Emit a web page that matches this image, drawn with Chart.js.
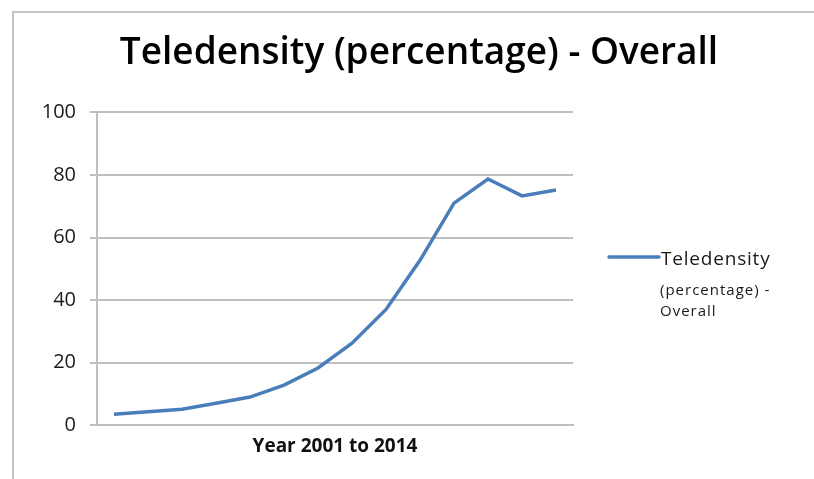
<!DOCTYPE html>
<html>
<head>
<meta charset="utf-8">
<title>Teledensity (percentage) - Overall</title>
<script src="https://cdn.jsdelivr.net/npm/chart.js@4.4.1/dist/chart.umd.min.js"></script>
<style>
  html, body { margin: 0; padding: 0; background: #fff; overflow: hidden; }
  canvas { display: block; }
</style>
</head>
<body>
<canvas id="teledensity-chart" width="814" height="479"></canvas>
<script>
// data
const years = ['2001', '2002', '2003', '2004', '2005', '2006', '2007',
               '2008', '2009', '2010', '2011', '2012', '2013', '2014'];
const teledensity = [3.5, 4.3, 5.1, 7.0, 9.0, 12.8, 18.3, 26.2, 37.0, 52.7, 71.0, 78.7, 73.3, 75.2];
const yTicks = [0, 20, 40, 60, 80, 100];
const chartTitle = 'Teledensity (percentage) - Overall';
const xTitle = 'Year 2001 to 2014';
const legendLines = ['Teledensity', '(percentage) -', 'Overall'];

const FONT = "'Open Sans', 'Noto Sans', sans-serif";
const LINE_BLUE = '#4a7ebb';
const GRID = '#bfbfbf';

// white page and the grey frame at top / left
const framePlugin = {
    id: 'frame',
    beforeDraw(chart) {
        const ctx = chart.ctx;
        ctx.save();
        ctx.fillStyle = '#fff';
        ctx.fillRect(0, 0, chart.width, chart.height);
        ctx.strokeStyle = '#c3c3c3';
        ctx.lineWidth = 2;
        ctx.beginPath();
        ctx.moveTo(13, chart.height);
        ctx.lineTo(13, 12);
        ctx.lineTo(chart.width, 12);
        ctx.stroke();
        ctx.restore();
    }
};

// legend on the right, text wrapped like the original
const sideLegend = {
    id: 'sideLegend',
    afterDraw(chart) {
        const ctx = chart.ctx;
        const x0 = chart.chartArea.right + 36;
        const y0 = 257;
        ctx.save();
        ctx.strokeStyle = chart.data.datasets[0].borderColor;
        ctx.lineWidth = 3.5;
        ctx.lineCap = 'round';
        ctx.beginPath();
        ctx.moveTo(x0, y0);
        ctx.lineTo(x0 + 50, y0);
        ctx.stroke();
        ctx.fillStyle = '#1a1a1a';
        ctx.textBaseline = 'middle';
        ctx.textAlign = 'left';
        ctx.font = '19px ' + FONT;
        ctx.letterSpacing = '0.8px';
        ctx.fillText(legendLines[0], x0 + 52, y0 + 3);
        ctx.font = '15px ' + FONT;
        ctx.letterSpacing = '1px';
        ctx.fillText(legendLines[1], x0 + 51, y0 + 34);
        ctx.fillText(legendLines[2], x0 + 51, y0 + 55);
        ctx.restore();
    }
};

const ctx = document.getElementById('teledensity-chart').getContext('2d');
const chart = new Chart(ctx, {
    type: 'line',
    data: {
        labels: years,
        datasets: [{
            label: legendLines.join(' '),
            data: teledensity,
            borderColor: LINE_BLUE,
            backgroundColor: LINE_BLUE,
            borderWidth: 3.5,
            pointRadius: 0,
            tension: 0,
            fill: false
        }]
    },
    options: {
        responsive: false,
        animation: false,
        devicePixelRatio: 1,
        layout: {
            padding: { left: 24, right: 0, top: 0, bottom: 21 }
        },
        plugins: {
            legend: { display: false },
            tooltip: { enabled: false },
            title: {
                display: true,
                text: chartTitle,
                color: '#000',
                font: { family: FONT, size: 37, weight: '600' },
                padding: { top: 31, bottom: 37 }
            }
        },
        scales: {
            x: {
                offset: true,
                grid: { display: false, drawTicks: false },
                border: { display: true, color: GRID, width: 2 },
                ticks: { display: false },
                title: {
                    display: true,
                    text: xTitle,
                    color: '#111',
                    font: { family: FONT, size: 19, weight: 'bold' },
                    padding: { top: 10, bottom: 0 }
                }
            },
            y: {
                min: 0,
                max: 100,
                afterBuildTicks(scale) {
                    scale.ticks = yTicks.map(v => ({ value: v }));
                },
                afterFit(scale) {
                    scale.width = 73;
                },
                grid: {
                    color: GRID,
                    lineWidth: 2,
                    drawTicks: true,
                    tickLength: 7
                },
                border: { display: true, color: GRID, width: 2 },
                ticks: {
                    color: '#1a1a1a',
                    padding: 14,
                    font: { family: FONT, size: 20 }
                }
            },
            // empty right-hand box that keeps room for the legend
            legendRoom: {
                type: 'linear',
                position: 'right',
                display: true,
                grid: { display: false, drawTicks: false },
                border: { display: false },
                ticks: { display: false },
                afterFit(scale) {
                    scale.width = 241;
                }
            }
        }
    },
    plugins: [framePlugin, sideLegend]
});
</script>
</body>
</html>
